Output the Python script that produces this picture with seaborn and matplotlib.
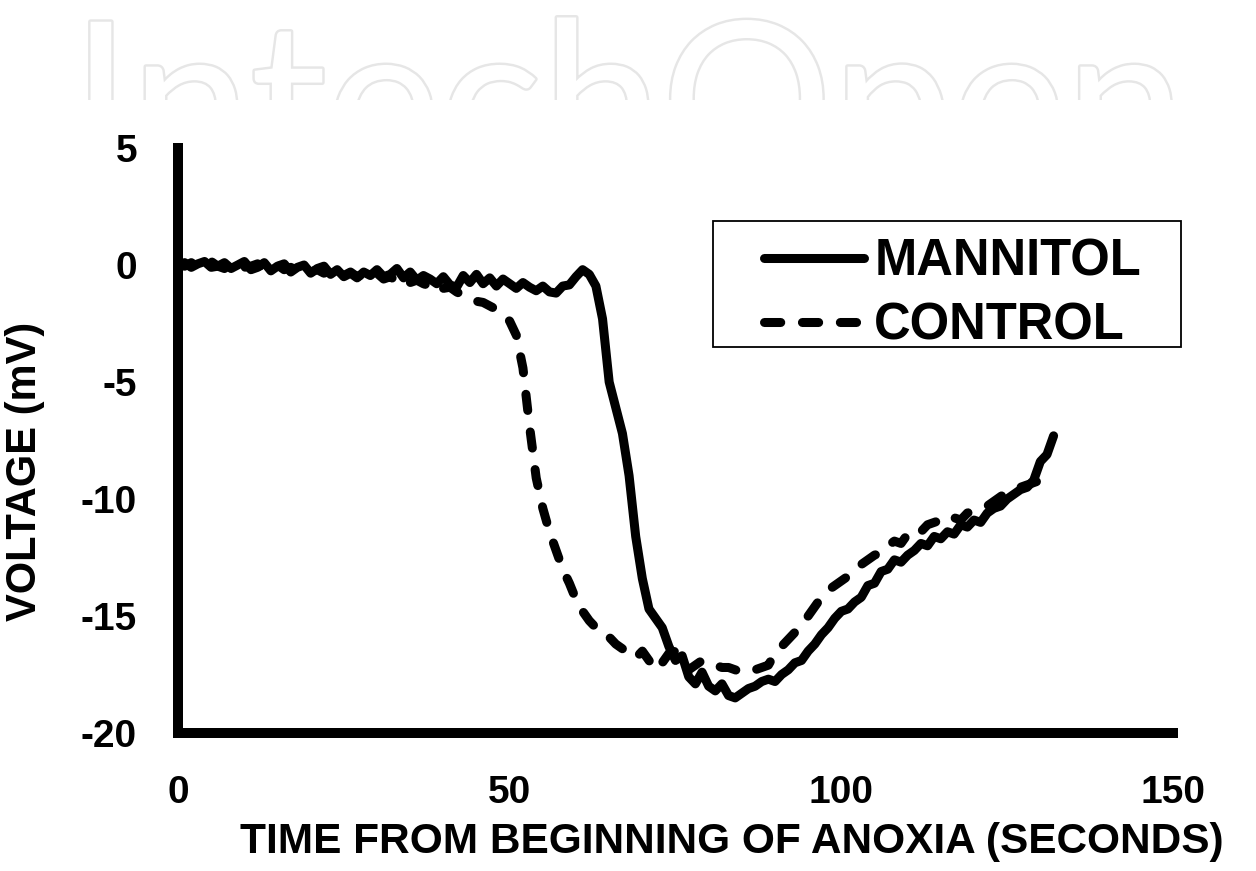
import numpy as np
import pandas as pd
import seaborn as sns
import matplotlib.pyplot as plt
from matplotlib.patches import Rectangle
import matplotlib.patheffects as pe

# data (1 s steps)
time_s = np.arange(0, 133)

mannitol = [0.0, 0.1, -0.1, 0.05, 0.15, -0.1, -0.05, 0.1, -0.15, 0.0,
            0.15, -0.2, -0.1, 0.1, -0.25, -0.05, 0.05, -0.3, -0.1, 0.0,
            -0.35, -0.15, -0.05, -0.4, -0.2, -0.5, -0.35, -0.55, -0.3, -0.45,
            -0.2, -0.5, -0.4, -0.15, -0.55, -0.3, -0.65, -0.45, -0.6, -0.8,
            -0.5, -0.85, -0.95, -0.45, -0.75, -0.4, -0.8, -0.55, -0.9, -0.6,
            -0.8, -1.0, -0.75, -0.95, -1.1, -0.9, -1.15, -1.2, -0.9, -0.85,
            -0.5, -0.2, -0.4, -0.9, -2.3, -5.0, -6.1, -7.2, -9.0, -11.6,
            -13.4, -14.7, -15.1, -15.5, -16.3, -16.9, -16.7, -17.6, -17.9, -17.4,
            -18.0, -18.2, -17.9, -18.4, -18.5, -18.3, -18.1, -18.0, -17.8, -17.7,
            -17.8, -17.5, -17.3, -17.0, -16.9, -16.5, -16.2, -15.8, -15.5, -15.1,
            -14.8, -14.7, -14.4, -14.2, -13.7, -13.6, -13.1, -13.0, -12.6, -12.7,
            -12.4, -12.2, -11.9, -12.0, -11.6, -11.7, -11.4, -11.5, -11.1, -11.2,
            -10.9, -11.0, -10.6, -10.4, -10.3, -10.0, -9.8, -9.6, -9.5, -9.2,
            -8.4, -8.1, -7.3]

control = [0.0, -0.05, 0.1, -0.1, 0.05, 0.15, -0.05, -0.15, 0.05, 0.1,
           -0.1, -0.05, 0.05, -0.2, -0.05, 0.0, -0.2, -0.1, -0.25, -0.05,
           -0.3, -0.2, -0.35, -0.25, -0.3, -0.45, -0.3, -0.5, -0.4, -0.55,
           -0.35, -0.6, -0.5, -0.7, -0.55, -0.75, -0.65, -0.8, -0.9, -0.75,
           -1.0, -0.95, -1.15, -1.3, -1.45, -1.55, -1.6, -1.75, -1.9, -2.1,
           -2.4, -3.0, -4.4, -6.9, -9.1, -10.4, -11.4, -12.2, -13.0, -13.6,
           -14.3, -14.8, -15.2, -15.5, -15.6, -15.9, -16.2, -16.4, -16.6, -16.8,
           -16.5, -16.9, -17.3, -17.0, -16.6, -16.5, -16.9, -17.3, -17.1, -16.9,
           -17.0, -17.1, -17.2, -17.2, -17.3, -17.4, -17.4, -17.3, -17.2, -17.1,
           -16.6, -16.3, -16.0, -15.7, -15.4, -15.0, -14.6, -14.2, -13.9, -13.7,
           -13.5, -13.3, -13.0, -12.8, -12.6, -12.4, -12.3, -12.0, -11.8, -11.9,
           -11.5, -11.3, -11.4, -11.1, -11.0, -10.9, -11.0, -10.8, -10.9, -10.6,
           -10.5, -10.4, -10.3, -10.1, -9.9, -9.7, -9.6, -9.5, -9.4, -9.3,
           -9.2, -9.1, -9.0]

groups = ['MANNITOL', 'CONTROL']
x_ticks = [0, 50, 100, 150]
y_ticks = [5, 0, -5, -10, -15, -20]

df = pd.DataFrame({
    'time': np.concatenate([time_s, time_s]),
    'voltage': np.concatenate([mannitol, control]),
    'group': [groups[0]] * len(time_s) + [groups[1]] * len(time_s),
})

sns.set_style('white')
plt.rcParams['font.family'] = ['Liberation Sans', 'DejaVu Sans']
plt.rcParams['font.weight'] = 'bold'
plt.rcParams['axes.unicode_minus'] = False
for key in ['text.color', 'axes.labelcolor', 'xtick.color', 'ytick.color']:
    plt.rcParams[key] = 'black'

fig = plt.figure(figsize=(12.56, 8.71), dpi=100)

# watermark at the top, clipped at the bottom
wm_ax = fig.add_axes([0, 1 - 100 / 871, 1, 100 / 871])
wm_ax.axis('off')
wm_ax.set_xlim(0, 1)
wm_ax.set_ylim(0, 1)
wm = wm_ax.text(0.5, -0.75, 'IntechOpen', family=['Lato', 'DejaVu Sans'], fontweight='normal',
                fontsize=154, color='white', ha='center', va='baseline', clip_on=True)
wm.set_path_effects([pe.withStroke(linewidth=3.5, foreground='#e6e6e6')])

ax = fig.add_axes([178 / 1256, 1 - 733 / 871, 995 / 1256, 585 / 871])

sns.lineplot(data=df, x='time', y='voltage', hue='group', style='group',
             palette=['black', 'black'], dashes={'MANNITOL': '', 'CONTROL': (1.8, 2.4)},
             linewidth=6.5, solid_capstyle='round', dash_capstyle='round',
             solid_joinstyle='round', ax=ax)

ax.set_xlim(0, 150)
ax.set_ylim(-20, 5)
ax.set_xticks(x_ticks)
ax.set_yticks(y_ticks)
for s in ['top', 'right']:
    ax.spines[s].set_visible(False)
for s in ['left', 'bottom']:
    ax.spines[s].set_linewidth(7.2)
    ax.spines[s].set_color('black')

ax.tick_params(axis='y', direction='out', length=8.5, width=7, pad=21, labelsize=28, color='black')
ax.tick_params(axis='x', direction='in', length=8.5, width=7, pad=30, labelsize=28, color='black')

ax.set_ylabel('VOLTAGE (mV)', fontsize=30, fontweight='bold')
ax.yaxis.set_label_coords(-0.134, 0.448)
ax.set_xlabel('TIME FROM BEGINNING OF ANOXIA (SECONDS)', fontsize=30.5, fontweight='bold')
ax.xaxis.set_label_coords(0.557, -0.152)

handles, labels = ax.get_legend_handles_labels()
leg = ax.legend(handles, labels, loc='upper left', bbox_to_anchor=(739 / 1256, 1 - 212 / 871),
                bbox_transform=fig.transFigure, frameon=False, borderpad=0,
                handlelength=1.97, handletextpad=0.2, labelspacing=0.3,
                prop={'size': 36.5, 'weight': 'bold'})
for ln in leg.get_lines():
    ln.set_linewidth(6.5)
    ln.set_color('black')
    ln.set_solid_capstyle('round')
    ln.set_dash_capstyle('round')
fig.add_artist(Rectangle((713 / 1256, 1 - 347 / 871), 468 / 1256, 126 / 871,
                         transform=fig.transFigure, fill=False, ec='black', lw=1.3))

fig.savefig('out.png', dpi=100)
